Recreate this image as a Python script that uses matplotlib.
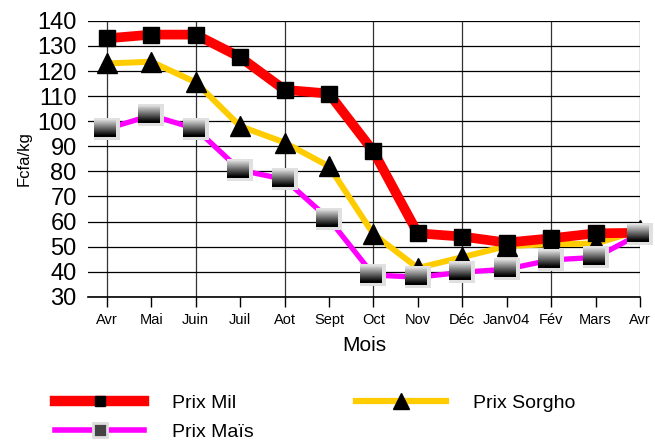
import numpy as np
import matplotlib
matplotlib.use("Agg")
import matplotlib.pyplot as plt
from matplotlib.lines import Line2D
from matplotlib.offsetbox import OffsetImage, AnnotationBbox

months = ["Avr", "Mai", "Juin", "Juil", "Aot", "Sept", "Oct", "Nov",
          "Déc", "Janv04", "Fév", "Mars", "Avr"]
prix_mil = [133, 134.5, 134.5, 125.5, 112.5, 111, 88, 55.3, 54, 51.6, 53.3, 55.3, 55.5]
prix_sorgho = [123, 123.7, 115.5, 98, 91.5, 82, 55, 41.5, 45.8, 50.2, 51, 51.2, 56.5]
prix_mais = [97, 102.3, 97, 80.5, 76.8, 61, 38.7, 37.8, 39.8, 41, 44.7, 45.7, 55]

plt.rcParams['font.family'] = ['Liberation Sans', 'DejaVu Sans']


def gradient_marker(w=26, h=22):
    # light grey box, gradient square (light top -> black bottom) in its upper left
    img = np.ones((h, w, 3)) * 0.88
    top, bottom, right = 2, h - 3, w - 4
    n = bottom - top
    for i in range(n):
        if i >= n - 2:
            v = 0.0
        else:
            v = 0.82 * (1 - i / (n - 2))
        img[top + i, 0:right] = v
    return img


def main():
    fig = plt.figure(figsize=(6.55, 4.43), dpi=100)
    ax = fig.add_axes([0.134, 0.330, 0.843, 0.623])
    x = np.arange(len(months))

    ax.plot(x, prix_mais, color="#FF00FF", lw=3.8, zorder=3, clip_on=False)
    ax.plot(x, prix_sorgho, color="#FFCC00", lw=4.3, zorder=4, clip_on=False,
            marker="^", ms=15, mfc="black", mec="black")
    ax.plot(x, prix_mil, color="#FF0000", lw=7, zorder=5, clip_on=False,
            marker="s", ms=11, mfc="black", mec="black")

    img = gradient_marker()
    for xi, yi in zip(x, prix_mais):
        ab = AnnotationBbox(OffsetImage(img, zoom=1, dpi_cor=False), (xi, yi),
                            frameon=False, pad=0, box_alignment=(0.5, 0.5),
                            zorder=6, annotation_clip=False)
        ax.add_artist(ab)

    ax.set_xlim(-0.43, 12)
    ax.set_ylim(30, 140)
    ax.set_yticks(np.arange(30, 141, 10))
    ax.set_xticks(x)
    ax.set_xticklabels(months, fontsize=10.5)
    ax.tick_params(axis="y", length=0, labelsize=17, pad=8)
    ax.tick_params(axis="x", length=7, width=1, direction="out", pad=5)
    ax.grid(axis="y", color="black", lw=0.9, zorder=1)
    for xi in x[::2]:
        ax.axvline(xi, color="#333333", lw=0.9, zorder=1)
    for s in ["top", "right", "left"]:
        ax.spines[s].set_visible(False)
    ax.spines["bottom"].set_linewidth(1.2)

    ax.set_xlabel("Mois", fontsize=15, labelpad=6)
    ax.set_ylabel("Fcfa/kg", fontsize=12, labelpad=4)

    handles = [
        Line2D([], [], color="#FF0000", lw=7.5, marker="s", ms=7, mfc="black", mec="black"),
        Line2D([], [], color="#FF00FF", lw=4, marker="s", ms=10, mfc="#444444",
               mec="#dddddd", mew=2),
        Line2D([], [], color="#FFCC00", lw=4.5, marker="^", ms=11, mfc="black", mec="black"),
    ]
    fig.legend(handles, ["Prix Mil", "Prix Maïs", "Prix Sorgho"], ncol=2,
               loc="upper left", bbox_to_anchor=(0.084, 0.110), frameon=False,
               fontsize=14, handlelength=4.6, handletextpad=1.4, columnspacing=5.3,
               labelspacing=0.6, borderpad=0, borderaxespad=0)

    fig.savefig("out.png", dpi=100)


if __name__ == "__main__":
    main()
